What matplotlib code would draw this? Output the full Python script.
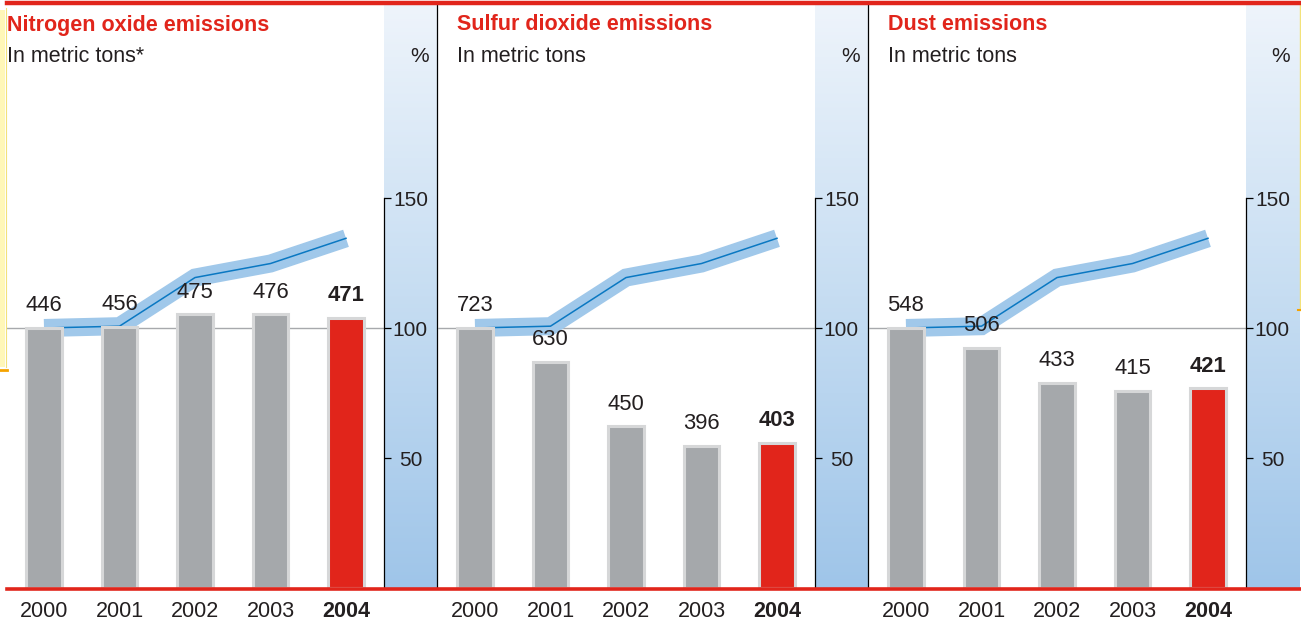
import matplotlib
matplotlib.use("Agg")
import matplotlib.pyplot as plt
import numpy as np
from matplotlib.colors import LinearSegmentedColormap
from matplotlib.lines import Line2D
from matplotlib.patches import Rectangle

plt.rcParams['font.family'] = ['Liberation Sans', 'DejaVu Sans']

# ---------------- data ----------------
years = ["2000", "2001", "2002", "2003", "2004"]
titles = ["Nitrogen oxide emissions", "Sulfur dioxide emissions", "Dust emissions"]
subtitles = ["In metric tons*", "In metric tons", "In metric tons"]
nox_tons = [446, 456, 475, 476, 471]
so2_tons = [723, 630, 450, 396, 403]
dust_tons = [548, 506, 433, 415, 421]
# bar heights on the % scale (2000 = 100)
nox_pct = [100, 100.5, 105.2, 105.2, 104.0]
so2_pct = [100, 87.1, 62.2, 54.8, 55.7]
dust_pct = [100, 92.3, 79.0, 75.7, 76.8]
index_pct = [100, 100.7, 119.4, 124.8, 134.5]   # blue line, % (2000 = 100)
pct_ticks = [50, 100, 150]

tons = [nox_tons, so2_tons, dust_tons]
pcts = [nox_pct, so2_pct, dust_pct]

# ---------------- style ----------------
W, H = 1301, 623
RED = "#e1251b"
GRAY_BAR = "#a5a8ab"
BAR_EDGE = "#d6d7d8"
TXT = "#231f20"
BAND_LIGHT = "#a0c8ea"
LINE_BLUE = "#0a78c2"

fig = plt.figure(figsize=(W / 100, H / 100), dpi=100)
fig.patch.set_facecolor("white")


def rect(x0, y0, x1, y1):
    """pixel box (top-left origin) -> figure fraction rect"""
    return [x0 / W, 1 - y1 / H, (x1 - x0) / W, (y1 - y0) / H]


# background artifacts (yellow edges)
fig.patches.append(Rectangle((0, 1 - 367 / H), 5 / W, 357 / H, transform=fig.transFigure,
                             facecolor="#fff7b8", edgecolor="none", zorder=0))
fig.lines.append(Line2D([5.5 / W, 5.5 / W], [1 - 367 / H, 1 - 8 / H], transform=fig.transFigure,
                        color="#f3e27a", lw=0.8))
fig.lines.append(Line2D([0, 7 / W], [1 - 370 / H, 1 - 370 / H], transform=fig.transFigure,
                        color="#f5a300", lw=2))
fig.lines.append(Line2D([1300.3 / W, 1300.3 / W], [1 - 310 / H, 1 - 5 / H], transform=fig.transFigure,
                        color="#f3e27a", lw=1))
fig.lines.append(Line2D([1298 / W, 1301 / W], [1 - 310 / H, 1 - 310 / H], transform=fig.transFigure,
                        color="#f5a300", lw=1.5))

Y_TOP, Y_BOT = 5, 588
PX_PER_PCT = 2.6
YMAX = (Y_BOT - Y_TOP) / PX_PER_PCT
STEP = 75.5
grad_cmap = LinearSegmentedColormap.from_list("band", ["#eef4fb", "#c6ddf2", "#9fc5e9"])

for k in range(3):
    off = 431 * k
    x0, xb, x1 = 7 + off, 384 + off, (437 + off if k < 2 else 1300)
    ax = fig.add_axes(rect(x0, Y_TOP, xb, Y_BOT))
    ax.set_xlim(-(44 - 7) / STEP, (384 - 44) / STEP)
    ax.set_ylim(0, YMAX)
    ax.axis("off")

    vals = tons[k]
    pct = pcts[k]
    x = np.arange(len(years))

    ax.axhline(100, color="#a7a9ac", lw=1.0, zorder=1)
    ax.plot(x, index_pct, color=BAND_LIGHT, linewidth=13, solid_capstyle="butt",
            solid_joinstyle="miter", zorder=2)
    ax.plot(x, index_pct, color=LINE_BLUE, linewidth=1.1, zorder=3)
    colors = [GRAY_BAR] * 4 + [RED]
    ax.bar(x, pct, width=0.475, color=colors, edgecolor=BAR_EDGE, linewidth=2.2, zorder=4)

    for i, (v, p) in enumerate(zip(vals, pct)):
        ax.annotate(str(v), (i, p), xytext=(0, 16), textcoords="offset points",
                    ha="center", va="center", fontsize=15.8, color=TXT,
                    fontweight="bold" if i == 4 else "normal", zorder=6)
        ax.annotate(years[i], (i, 0), xytext=(0, -17), textcoords="offset points",
                    ha="center", va="center", fontsize=15.5, color=TXT,
                    fontweight="bold" if i == 4 else "normal", annotation_clip=False)

    # percent band axis
    bx = fig.add_axes(rect(xb, Y_TOP, x1, Y_BOT))
    bx.set_ylim(0, YMAX)
    bx.set_xlim(0, 1)
    bx.imshow(np.linspace(0, 1, 256).reshape(-1, 1), cmap=grad_cmap, aspect="auto",
              extent=[0, 1, 0, YMAX], origin="upper", zorder=0)
    for s in ["left", "top", "bottom"]:
        bx.spines[s].set_visible(False)
    bx.spines["right"].set_position(("axes", 0.0))
    bx.spines["right"].set_bounds(0, 150)
    bx.spines["right"].set_linewidth(0.9)
    bx.yaxis.tick_right()
    bx.set_yticks(pct_ticks)
    bx.set_yticklabels([str(t) for t in pct_ticks])
    bx.tick_params(axis="y", direction="out", length=5, width=0.9, pad=14,
                   labelsize=15, labelcolor=TXT, colors="black")
    for lbl in bx.get_yticklabels():
        lbl.set_horizontalalignment("center")
        lbl.set_color(TXT)
    bx.set_xticks([])
    if k < 2:
        bx.plot([1, 1], [0, 1], transform=bx.transAxes, color="black", lw=0.9, clip_on=False)
    fig.text((420 + off) / W if k < 2 else 1281 / W, 1 - 57 / H, "%", fontsize=15,
             color=TXT, ha="center", va="center")

    tx = 7 if k == 0 else 457 + 431 * (k - 1)
    fig.text(tx / W, 1 - 25 / H, titles[k], fontsize=15.5, fontweight="bold", color=RED,
             ha="left", va="center")
    fig.text(tx / W, 1 - 57 / H, subtitles[k], fontsize=15.5, color=TXT,
             ha="left", va="center")

# top and bottom red rules
fig.lines.append(Line2D([7 / W, 1], [1 - 2.5 / H, 1 - 2.5 / H], transform=fig.transFigure,
                        color=RED, lw=3.2))
fig.lines.append(Line2D([7 / W, 1], [1 - 588.5 / H, 1 - 588.5 / H], transform=fig.transFigure,
                        color=RED, lw=2.6, zorder=10))

fig.savefig("out.png", dpi=100)
